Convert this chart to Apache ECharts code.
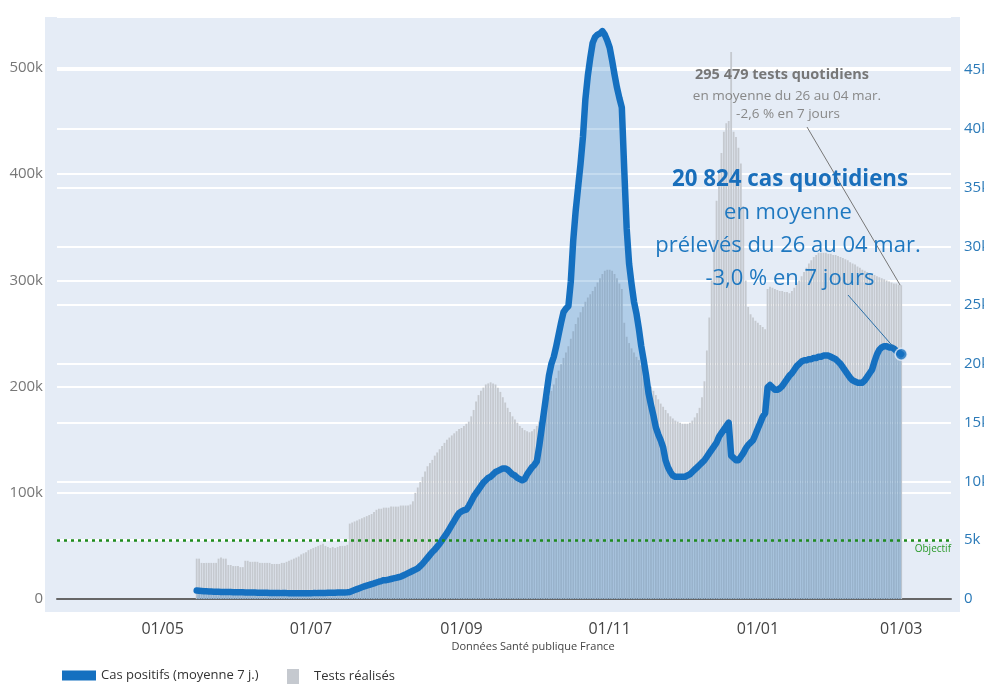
<!DOCTYPE html>
<html>
<head>
<meta charset="utf-8">
<script src="https://cdn.jsdelivr.net/npm/echarts@6/dist/echarts.min.js"></script>
<style>html,body{margin:0;padding:0;background:#fff}#c{width:984px;height:690px}</style>
</head>
<body>
<div id="c"></div>
<script>
// ---- Data ----
const axisStart = [2020, 2, 19];   // first category (19/03/2020)
const axisEnd = [2021, 2, 21];     // last category (21/03/2021)
const dataStart = '15/05/2020';
const tickLabels = ['01/05', '01/07', '01/09', '01/11', '01/01', '01/03'];

// Tests réalisés (thousands per day), 15/05/2020 -> 01/03/2021
const testsK = [
  38,38,34,34,34,34,34,34,34,38,39,38,38,32,32,31,31,
  31,30,30,36,36,35,35,35,35,34,34,34,34,34,33,33,33,33,34,34,35,36,37,38,39,40,42,43,44,46,
  47,48,49,50,51,52,50,49,48,49,48,49,50,50,50,51,71,72,73,74,75,76,77,78,79,80,82,84,85,85,86,
  86,86,87,87,87,87,88,88,88,88,89,92,100,105,110,115,120,125,128,131,135,138,141,144,147,150,152,154,156,158,160,
  161,163,165,167,172,178,186,192,196,199,202,203,204,203,202,199,195,190,185,180,176,172,169,166,163,161,159,158,157,158,
  160,163,167,172,178,184,190,196,202,208,215,221,227,232,238,245,252,259,265,270,275,280,284,287,290,294,298,302,306,309,310,
  310,309,306,302,297,292,260,247,241,236,232,228,225,220,215,210,205,200,196,192,188,184,181,178,175,172,170,168,167,166,
  165,165,165,166,168,171,175,180,190,205,234,265,300,338,375,400,420,440,448,450,515,440,435,425,410,370,300,275,268,265,262,
  260,258,256,254,292,294,293,292,291,290,290,289,289,288,290,293,297,300,304,308,312,316,319,322,324,326,326,326,326,325,325,
  324,324,323,322,321,320,319,317,316,315,313,312,310,309,308,307,306,305,304,303,302,301,300,299,298,297,297,296,
  295.479
];

// Cas positifs, moyenne 7 j. (thousands per day), 15/05/2020 -> 01/03/2021
const casesK = [
  0.72,0.7,0.68,0.66,0.65,0.64,0.63,0.62,0.62,0.61,0.6,0.6,0.6,0.59,0.59,0.58,0.58,
  0.58,0.57,0.57,0.56,0.56,0.55,0.55,0.55,0.54,0.54,0.54,0.53,0.53,0.52,0.52,0.52,0.51,0.51,0.5,0.5,0.5,0.49,0.49,0.48,0.48,0.48,0.48,0.48,0.48,0.48,
  0.49,0.5,0.5,0.51,0.51,0.52,0.52,0.53,0.53,0.54,0.54,0.55,0.55,0.56,0.56,0.57,0.6,0.68,0.76,0.84,0.92,1.0,1.07,1.14,1.2,1.27,1.33,1.4,1.47,1.53,1.6,
  1.6,1.65,1.7,1.75,1.8,1.85,1.9,2.0,2.1,2.2,2.3,2.4,2.5,2.6,2.8,3.0,3.25,3.5,3.75,4.0,4.2,4.45,4.7,5.0,5.3,5.6,5.95,6.3,6.65,7.0,7.3,
  7.45,7.55,7.6,7.9,8.3,8.7,9.0,9.3,9.6,9.9,10.1,10.3,10.4,10.6,10.8,10.9,11.0,11.1,11.1,11.0,10.8,10.6,10.5,10.3,10.2,10.1,10.2,10.6,10.9,11.2,
  11.4,11.7,13.0,14.5,16.0,17.5,19.0,20.0,20.6,21.5,22.5,23.5,24.4,24.7,24.9,27.0,30.5,33.0,35.0,37.0,39.3,42.5,44.5,46.0,47.3,47.8,48.0,48.1,48.3,48.0,47.5,
  46.9,45.8,44.6,43.5,42.6,41.8,36.5,31.5,28.5,26.8,25.3,24.3,23.0,21.5,20.3,19.0,17.5,16.5,15.6,14.6,14.0,13.5,12.9,11.8,11.2,10.8,10.5,10.4,10.4,10.4,
  10.4,10.4,10.5,10.6,10.8,11.0,11.2,11.4,11.6,11.8,12.1,12.4,12.7,13.0,13.3,13.8,14.1,14.4,14.7,15.0,12.2,12.0,11.8,11.8,12.1,12.4,12.8,13.1,13.3,13.5,14.0,
  14.5,15.0,15.5,15.8,18.0,18.2,18.0,17.8,17.8,17.9,18.1,18.4,18.7,19.0,19.2,19.5,19.8,20.0,20.2,20.3,20.3,20.4,20.4,20.5,20.5,20.6,20.6,20.7,20.7,20.7,20.6,
  20.5,20.4,20.2,20.0,19.7,19.4,19.1,18.8,18.6,18.5,18.4,18.4,18.4,18.6,18.9,19.2,19.5,20.2,20.8,21.2,21.4,21.5,21.5,21.4,21.4,21.3,21.1,20.95,
  20.824
];

const objectif = 5000;
const leftMax = 548000, leftStep = 100000;
const rightMax = 49500, rightStep = 5000;

// ---- Build categories ----
function fmt(d) {
  const dd = String(d.getUTCDate()).padStart(2, '0');
  const mm = String(d.getUTCMonth() + 1).padStart(2, '0');
  return dd + '/' + mm + '/' + d.getUTCFullYear();
}
const categories = [];
for (let t = Date.UTC(...axisStart); t <= Date.UTC(...axisEnd); t += 86400000) categories.push(fmt(new Date(t)));
const s0 = categories.indexOf(dataStart);
const n = testsK.length;
const testsData = categories.map((c, i) => (i >= s0 && i < s0 + n) ? testsK[i - s0] * 1000 : null);
const casesData = categories.map((c, i) => (i >= s0 && i < s0 + n) ? casesK[i - s0] * 1000 : null);
const lastIdx = s0 + n - 1;
const lastPoint = categories.map((c, i) => i === lastIdx ? casesK[n - 1] * 1000 : null);

const FONT = 'Open Sans';
const BLUE = '#1570c0';
const isTick = (idx, val) => tickLabels.includes(val.slice(0, 5)) && val.slice(0, 2) === '01';

const chart = echarts.init(document.getElementById('c'), null, { renderer: 'canvas' });
chart.setOption({
  animation: false,
  backgroundColor: '#ffffff',
  textStyle: { fontFamily: FONT },
  grid: { left: 57, right: 33, top: 17, bottom: 91, containLabel: false, outerBoundsMode: 'none' },
  graphic: [
    { id: 'bg', type: 'rect', z: -100, silent: true, shape: { x: 45, y: 17, width: 915, height: 595 }, style: { fill: '#e5ecf6' } }
  ],
  legend: [
    { data: [{ name: 'Cas positifs (moyenne 7 j.)', icon: 'rect' }], left: 62, top: 669, padding: 0, itemWidth: 34, itemHeight: 10,
      textStyle: { fontSize: 13, color: '#333', fontFamily: FONT }, selectedMode: false },
    { data: [{ name: 'Tests réalisés', icon: 'rect' }], left: 287, top: 669, padding: 0, itemWidth: 12, itemHeight: 15,
      textStyle: { fontSize: 13, color: '#333', fontFamily: FONT, padding: [0, 0, 0, 10] }, selectedMode: false }
  ],
  xAxis: {
    type: 'category', data: categories, boundaryGap: true,
    axisLine: { lineStyle: { color: '#666', width: 2 } },
    axisTick: { alignWithLabel: true, interval: isTick, length: 9, lineStyle: { color: '#666', width: 1 } },
    axisLabel: { interval: isTick, formatter: v => v.slice(0, 5), fontSize: 16, color: '#444', margin: 22, fontFamily: FONT },
    splitLine: { show: false }
  },
  yAxis: [
    { type: 'value', min: 0, max: leftMax, interval: leftStep, position: 'left',
      axisLine: { show: false }, axisTick: { show: false },
      axisLabel: { formatter: v => v === 0 ? '0' : (v / 1000) + 'k', color: '#777', fontSize: 15, margin: 14, showMaxLabel: false, fontFamily: FONT },
      splitLine: { lineStyle: { color: '#ffffff', width: 2 } } },
    { type: 'value', min: 0, max: rightMax, interval: rightStep, position: 'right',
      axisLine: { show: false }, axisTick: { show: false },
      axisLabel: { formatter: v => v === 0 ? '0' : (v / 1000) + 'k', color: '#2b7ab8', fontSize: 15, margin: 13, showMaxLabel: false, fontFamily: FONT },
      splitLine: { lineStyle: { color: '#ffffff', width: 2 } } }
  ],
  series: [
    { name: 'Tests réalisés', type: 'bar', yAxisIndex: 0, data: testsData, barCategoryGap: '25%',
      itemStyle: { color: '#c5c9cf' }, z: 2 },
    { name: 'Cas positifs (moyenne 7 j.)', type: 'line', yAxisIndex: 1, data: casesData, showSymbol: false, symbol: 'none',
      connectNulls: false, lineStyle: { color: BLUE, width: 6.5, join: 'round', cap: 'round' }, itemStyle: { color: BLUE },
      areaStyle: { color: 'rgba(21,110,190,0.36)' }, z: 4,
      markLine: { silent: true, symbol: 'none', animation: false,
        data: [{ yAxis: objectif }],
        lineStyle: { color: '#1e8a1e', type: [3, 4], width: 2.5 },
        label: { formatter: 'Objectif', position: 'insideEndBottom', color: '#2a9a2a', fontSize: 10, fontFamily: FONT, distance: [0, 4] } } },
    { type: 'scatter', yAxisIndex: 1, data: lastPoint, symbol: 'circle', symbolSize: 12,
      itemStyle: { color: BLUE, borderColor: '#e8f0fa', borderWidth: 1.5 }, z: 6 }
  ]
});

// Annotation leader lines anchored on the data ends
const pCase = chart.convertToPixel({ xAxisIndex: 0, yAxisIndex: 1 }, [lastIdx, casesK[n - 1] * 1000]);
const pTest = chart.convertToPixel({ xAxisIndex: 0, yAxisIndex: 0 }, [lastIdx, testsK[n - 1] * 1000]);

function txt(id, text, x, y, size, weight, color, sx) {
  return { id, type: 'text', x, y, scaleX: sx || 1, z: 50, silent: true,
    style: { text, x: 0, y: 0, align: 'center', verticalAlign: 'middle', textAlign: 'center', textVerticalAlign: 'middle',
      fontSize: size, fontWeight: weight, fontFamily: FONT, fill: color } };
}
chart.setOption({
  graphic: [
    { id: 'lnTests', type: 'line', z: 40, silent: true, shape: { x1: 807, y1: 127, x2: pTest[0] - 1, y2: pTest[1] }, style: { stroke: '#777', lineWidth: 1 } },
    { id: 'lnCases', type: 'line', z: 40, silent: true, shape: { x1: 848, y1: 295, x2: pCase[0] - 5, y2: pCase[1] - 4 }, style: { stroke: '#2a6fa8', lineWidth: 1 } },
    txt('t1', '295 479 tests quotidiens', 782, 75, 14.5, 'bold', '#777'),
    txt('t2', 'en moyenne du 26 au 04 mar.', 787, 96, 13.5, 'normal', '#888'),
    txt('t3', '-2,6 % en 7 jours', 788, 114, 13.5, 'normal', '#888'),
    txt('b1', '20 824 cas quotidiens', 790, 179, 23, 'bold', '#1a6fbb', 0.97),
    txt('b2', 'en moyenne', 788, 213, 22, 'normal', '#1f78c0'),
    txt('b3', 'prélevés du 26 au 04 mar.', 788, 246, 22, 'normal', '#1f78c0'),
    txt('b4', '-3,0 % en 7 jours', 790, 279, 22, 'normal', '#1f78c0'),
    txt('src', 'Données Santé publique France', 533, 647, 11, 'normal', '#444')
  ]
});
</script>
</body>
</html>
